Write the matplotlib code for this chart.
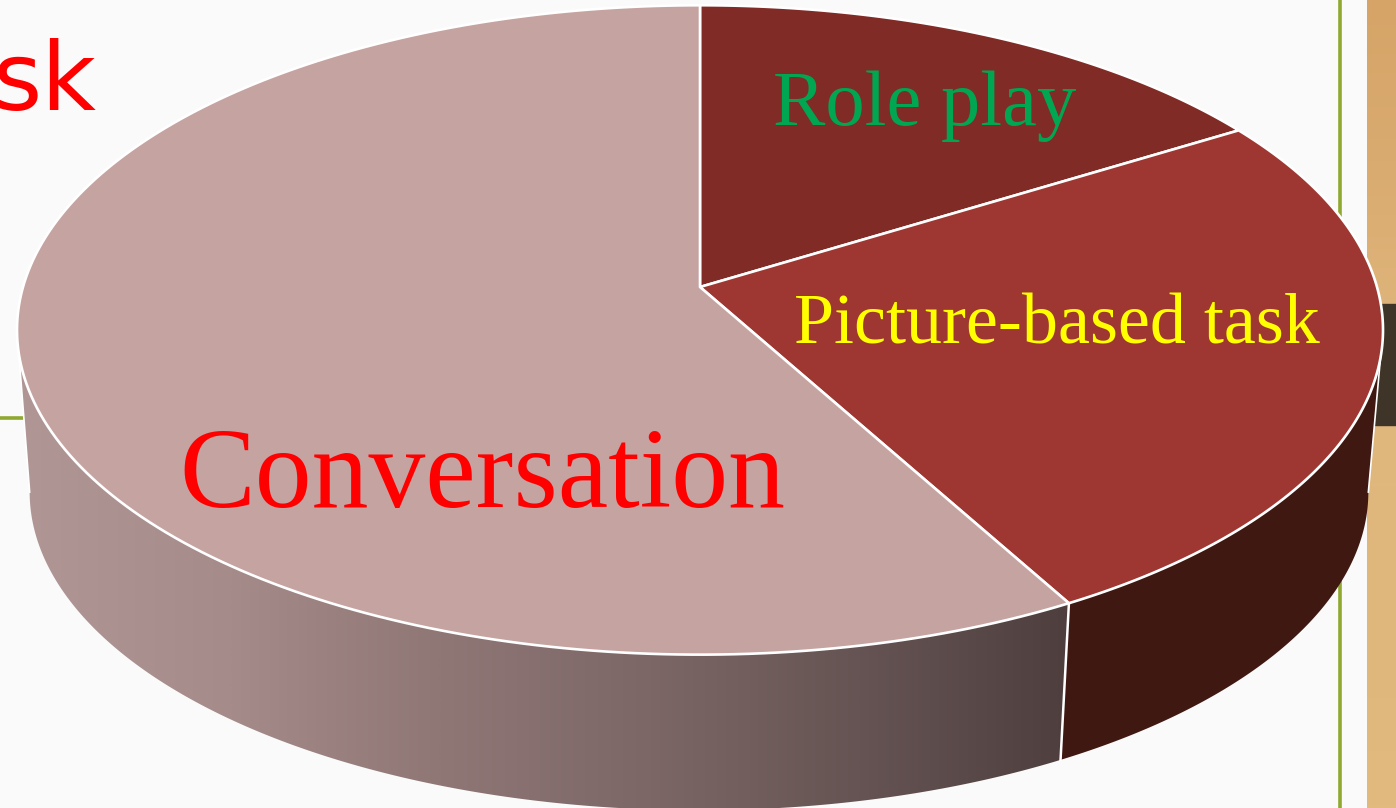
import numpy as np
import matplotlib
matplotlib.use("Agg")
import matplotlib.pyplot as plt
from matplotlib.colors import LinearSegmentedColormap
from matplotlib.patches import Polygon, Rectangle

# Datos (porcentajes aproximados)
labels = ["Role play", "Picture-based task", "Conversation"]
shares = [16.2, 25.8, 58]
top_colors = ["#802b26", "#9e3732", "#c5a3a1"]
label_colors = ["#00a651", "#ffff00", "#ff0000"]
label_sizes = [56.5, 51.8, 81.8]
label_pos = [(773, 125), (794, 343), (179, 507)]

side_stops = ["#b09796", "#a58b8a", "#8f7776", "#7c6766", "#655453", "#4e3f3e"]
wood_stops = ["#d6a467", "#d9ab70", "#dfb57b", "#e0b87e", "#dfb67b", "#e2ba80"]

# perspective of the disc
K = 0.1323
A = 677
P = 319


def rim(theta, cx, cy, scale=1.0):
    u, v = np.sin(theta), np.cos(theta)
    d = 1 + K * v
    return np.column_stack([cx + scale * A * u / d, cy - scale * P * v / d])


def arc(a, b, cx, cy, scale=1.0):
    return rim(np.linspace(a, b, 200), cx, cy, scale)


fig = plt.figure(figsize=(13.96, 8.08), dpi=100, facecolor="#fafafa")
ax = fig.add_axes([0, 0, 1, 1])
ax.axis("off")

# background of the slide
wood = LinearSegmentedColormap.from_list("wood", wood_stops)
ax.imshow(np.linspace(0, 1, 256).reshape(-1, 1), cmap=wood, aspect="auto",
          extent=(1367, 1396, 808, 0), zorder=1)
ax.add_patch(Rectangle((1367, 304), 29, 121, color="#3e3428", zorder=2))
ax.plot([1340, 1340], [0, 808], color="#8fa82f", lw=2.6, zorder=2)
ax.plot([0, 22], [418, 418], color="#8fa82f", lw=2.6, zorder=2)
ax.text(97, 110, "sk", color="#ff0000", fontsize=68, family="DejaVu Sans",
        ha="right", va="baseline", zorder=3)

edges = np.cumsum([0] + shares) / sum(shares) * 2 * np.pi
cx, cy = 700, 287
bx, by, bs = 699, 450, 0.98
left_side = 2 * np.pi - np.arccos(-K)
right_side = np.arccos(-K)

# wall of the pie
conv = np.vstack([arc(edges[2], left_side, cx, cy),
                  arc(left_side, edges[2], bx, by, bs)])
side_conv = Polygon(conv, closed=True, fc="none", ec="none", zorder=4)
ax.add_patch(side_conv)
grad = LinearSegmentedColormap.from_list("side", side_stops)
img = ax.imshow(np.linspace(0, 1, 512).reshape(1, -1), cmap=grad, aspect="auto",
                extent=(20, 1070, 808, 300), zorder=4)
img.set_clip_path(side_conv)

pic = np.vstack([arc(right_side, edges[2], cx, cy),
                 arc(edges[2], right_side, bx, by, bs)])
ax.add_patch(Polygon(pic, closed=True, fc="#401812", ec="none", zorder=4))

# white outlines of the wall
seam = np.vstack([rim(edges[2:3], cx, cy), rim(edges[2:3], bx, by, bs)])
ax.plot(seam[:, 0], seam[:, 1], color="white", lw=1.8, zorder=5)
for t in [left_side, right_side]:
    line = np.vstack([rim(np.array([t]), cx, cy), rim(np.array([t]), bx, by, bs)])
    ax.plot(line[:, 0], line[:, 1], color="white", lw=1.2, zorder=5)

# top of the pie
for i in range(len(shares)):
    pts = np.vstack([[cx, cy], arc(edges[i], edges[i + 1], cx, cy)])
    ax.add_patch(Polygon(pts, closed=True, fc=top_colors[i], ec="white", lw=1.9,
                         joinstyle="round", zorder=6))
    ax.text(label_pos[i][0], label_pos[i][1], labels[i], color=label_colors[i],
            fontsize=label_sizes[i], family="Liberation Serif", ha="left",
            va="baseline", zorder=7)

ax.set_xlim(0, 1396)
ax.set_ylim(808, 0)
fig.savefig("out.png", dpi=100, facecolor=fig.get_facecolor())
